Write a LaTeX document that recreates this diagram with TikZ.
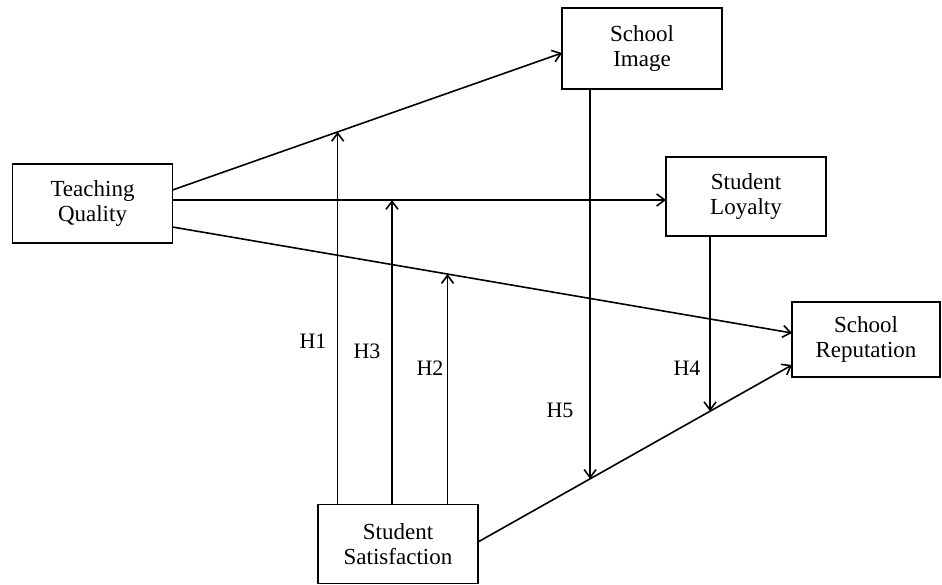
\documentclass[tikz,border=0pt]{standalone}
\usepackage{fontspec}
\setmainfont{Liberation Serif}
\usetikzlibrary{arrows.meta, calc, positioning}

\begin{document}
\begin{tikzpicture}[x=1pt, y=-1pt, every node/.style={align=center},
  box/.style={draw, line width=1.8pt, outer sep=0pt, inner sep=0pt, minimum width=160pt, minimum height=79pt, font=\fontsize{23}{25}\selectfont},
  hlab/.style={font=\fontsize{22}{25}\selectfont},
  arr/.style={-{Straight Barb[length=8pt,width=12pt]}, line width=1.6pt}]
\useasboundingbox[fill=white] (0,0) rectangle (942,584);
% constructs
\node[box] (tq) at (92.5,203.5) {Teaching\\Quality};
\node[box, minimum height=81pt] (si) at (642,48.5) {School\\Image};
\node[box] (sl) at (746,196.5) {Student\\Loyalty};
\node[box, minimum width=148pt, minimum height=75pt] (sr) at (866,339.5) {School\\Reputation};
\node[box] (ss) at (398,544) {Student\\Satisfaction};
% ends of the direct paths
\coordinate (tqa) at ([yshift=13.5pt]tq.east);
\coordinate (tqb) at ([yshift=3.5pt]tq.east);
\coordinate (tqc) at ([yshift=-23.5pt]tq.east);
\coordinate (sia) at ([yshift=-4.5pt]si.west);
\coordinate (sra) at ([yshift=6.5pt]sr.west);
\coordinate (srb) at ([yshift=-25.5pt]sr.west);
\coordinate (ssa) at ([yshift=2pt]ss.east);
\draw[arr] (tqa) -- (sia);
\draw[arr] (tqb) -- (sl.west |- tqb);
\draw[arr] (tqc) -- (sra);
\draw[arr] (ssa) -- (srb);
% moderating paths
\coordinate (p1) at ($(tqa)!0.424!(sia)$);
\coordinate (p3) at ([xshift=-6pt]ss.north |- tqb);
\coordinate (p2) at ($(tqc)!0.444!(sra)$);
\coordinate (p5) at ($(ssa)!0.357!(srb)$);
\coordinate (p4) at ($(ssa)!0.739!(srb)$);
\draw[arr] (p1 |- ss.north) -- (p1);
\draw[arr] (p3 |- ss.north) -- (p3);
\draw[arr] (p2 |- ss.north) -- (p2);
\draw[arr] (p5 |- si.south) -- (p5);
\draw[arr] (p4 |- sl.south) -- (p4);
\node[hlab] (lh1) at (313,341) {H1};
\node[hlab] (lh3) at (367,351) {H3};
\node[hlab] (lh2) at (430,368) {H2};
\node[hlab] (lh5) at (560,410) {H5};
\node[hlab] (lh4) at (687,368) {H4};
\end{tikzpicture}
\end{document}
